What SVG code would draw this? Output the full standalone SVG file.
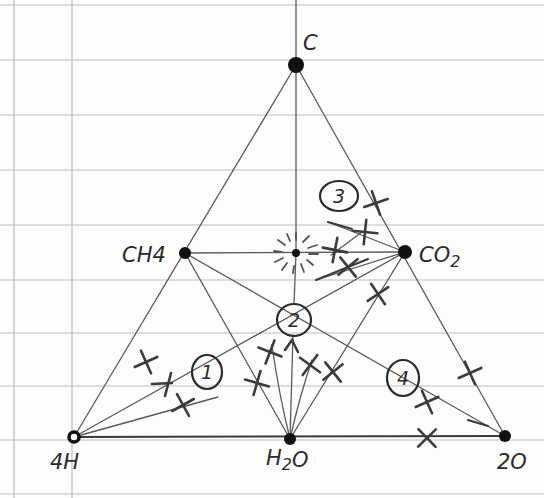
<svg xmlns="http://www.w3.org/2000/svg" width="544" height="498" viewBox="0 0 544 498">
<defs>
<style>
.paper{stroke:#bdbdbd;stroke-width:1.2;fill:none}
.edge{stroke:#5a5a5a;stroke-width:1.3;fill:none;stroke-linecap:round}
.bold{stroke:#3a3a3a;stroke-width:2}
.mark{stroke:#3c3c3c;stroke-width:2.6;fill:none;stroke-linecap:round}
.ring{stroke:#2a2a2a;stroke-width:2.2;fill:none}
.dot{fill:#111}
.lbl{font-family:"DejaVu Sans","Liberation Sans",sans-serif;font-style:oblique;fill:#2a2a2a;font-size:21px}
.num{font-family:"DejaVu Sans","Liberation Sans",sans-serif;font-style:oblique;fill:#2a2a2a;font-size:19px;text-anchor:middle}
.ray{stroke:#555;stroke-width:1.8;stroke-linecap:round}
</style>
<path id="xm" d="M-12,3 L12,-3 M-3,-12 L3,12"/>
</defs>
<rect width="544" height="498" fill="#fdfdfd"/>
<g id="paper" class="paper">
<line x1="0" y1="5" x2="544" y2="5"/>
<line x1="0" y1="60" x2="544" y2="60"/>
<line x1="0" y1="115" x2="544" y2="115"/>
<line x1="0" y1="170" x2="544" y2="170"/>
<line x1="0" y1="225" x2="544" y2="225"/>
<line x1="0" y1="280" x2="544" y2="280"/>
<line x1="0" y1="333" x2="544" y2="333"/>
<line x1="0" y1="386" x2="544" y2="386"/>
<line x1="0" y1="440" x2="544" y2="440"/>
<line x1="0" y1="494" x2="544" y2="494"/>
<line x1="14" y1="0" x2="14" y2="498"/>
<line x1="72" y1="0" x2="72" y2="498"/>
</g>
<g id="connectors">
<line class="edge" x1="296" y1="65" x2="74" y2="437"/>
<line class="edge" x1="296" y1="65" x2="505" y2="436"/>
<line class="edge bold" x1="74" y1="437" x2="505" y2="436"/>
<line class="edge" x1="296" y1="0" x2="296" y2="253"/>
<line class="edge" x1="296" y1="253" x2="294" y2="304"/>
<line class="edge" x1="185" y1="253" x2="405" y2="252"/>
<line class="edge" x1="185" y1="253" x2="290" y2="439"/>
<line class="edge" x1="405" y1="252" x2="290" y2="439"/>
<line class="edge" x1="185" y1="253" x2="505" y2="436"/>
<line class="edge" x1="405" y1="252" x2="74" y2="437"/>
<line class="edge" x1="74" y1="437" x2="218" y2="397"/>
<path class="edge" d="M290,439 Q278,390 272,345"/>
<line class="edge" x1="290" y1="439" x2="293" y2="335"/>
<path class="edge" d="M290,439 Q300,395 312,360"/>
<line class="edge" x1="328" y1="222" x2="405" y2="252"/>
<line class="edge" x1="331" y1="255" x2="362" y2="232"/>
<line class="edge" x1="316" y1="280" x2="405" y2="252"/>
<line class="edge bold" x1="316" y1="280" x2="368" y2="259"/>
<line class="edge bold" x1="328" y1="222" x2="352" y2="229"/>
<line class="edge bold" x1="468" y1="420" x2="488" y2="426"/>
</g>
<g id="marks" class="mark">
<use href="#xm" transform="translate(146,362) rotate(-10)"/>
<path d="M152,384 L172,383 M171,373 L165,396"/>
<use href="#xm" transform="translate(183,405) rotate(-15)"/>
<use href="#xm" transform="translate(257,383) rotate(30)"/>
<use href="#xm" transform="translate(270,352) rotate(35)"/>
<path d="M285,350 L292,340 L298,352"/>
<use href="#xm" transform="translate(310,365) rotate(-40)"/>
<use href="#xm" transform="translate(333,372) rotate(-25)"/>
<use href="#xm" transform="translate(378,294) rotate(-20)"/>
<use href="#xm" transform="translate(365,232) rotate(20)"/>
<use href="#xm" transform="translate(335,250) rotate(25)"/>
<use href="#xm" transform="translate(348,267) rotate(-25)"/>
<use href="#xm" transform="translate(376,203) rotate(-5)"/>
<use href="#xm" transform="translate(470,373) rotate(-10)"/>
<use href="#xm" transform="translate(427,402) rotate(-10)"/>
<use href="#xm" transform="translate(427,438) rotate(-30)"/>
</g>
<g id="node-C">
<circle class="dot" cx="296" cy="65" r="8"/>
<text class="lbl" x="303" y="50" font-size="24">C</text>
</g>
<g id="node-CH4">
<circle class="dot" cx="185" cy="253" r="6"/>
<text class="lbl" x="122" y="262">CH4</text>
</g>
<g id="node-center">
<circle class="dot" cx="296" cy="253" r="4"/>
<g class="ray">
<line x1="296" y1="240" x2="296" y2="233"/>
<line x1="303" y1="242" x2="309" y2="236"/>
<line x1="308" y1="248" x2="317" y2="245"/>
<line x1="309" y1="254" x2="318" y2="254"/>
<line x1="307" y1="260" x2="313" y2="265"/>
<line x1="301" y1="264" x2="304" y2="272"/>
<line x1="294" y1="266" x2="293" y2="273"/>
<line x1="287" y1="263" x2="282" y2="270"/>
<line x1="283" y1="258" x2="275" y2="262"/>
<line x1="282" y1="252" x2="274" y2="251"/>
<line x1="285" y1="245" x2="278" y2="240"/>
<line x1="290" y1="241" x2="287" y2="234"/>
</g>
</g>
<g id="node-CO2">
<circle class="dot" cx="405" cy="252" r="7"/>
<text class="lbl" x="419" y="262">CO<tspan font-size="16" dy="5">2</tspan></text>
</g>
<g id="node-4H">
<circle cx="74" cy="437" r="5" fill="#fff" stroke="#111" stroke-width="3.5"/>
<text class="lbl" x="50" y="469" font-size="20">4H</text>
</g>
<g id="node-H2O">
<circle class="dot" cx="290" cy="439" r="6"/>
<text class="lbl" x="266" y="465" font-size="20">H<tspan font-size="16" dy="5">2</tspan><tspan dy="-3">O</tspan></text>
</g>
<g id="node-2O">
<circle class="dot" cx="505" cy="436" r="6"/>
<text class="lbl" x="497" y="469" font-size="20">2O</text>
</g>
<g id="label-1">
<ellipse class="ring" cx="207" cy="372" rx="15" ry="17"/>
<text class="num" x="207" y="379">1</text>
</g>
<g id="label-2">
<ellipse class="ring" cx="294" cy="320" rx="17" ry="16"/>
<text class="num" x="294" y="327">2</text>
</g>
<g id="label-3">
<ellipse class="ring" cx="339" cy="196" rx="19" ry="15"/>
<text class="num" x="339" y="203">3</text>
</g>
<g id="label-4">
<ellipse class="ring" cx="403" cy="378" rx="16" ry="18"/>
<text class="num" x="403" y="385">4</text>
</g>
</svg>
